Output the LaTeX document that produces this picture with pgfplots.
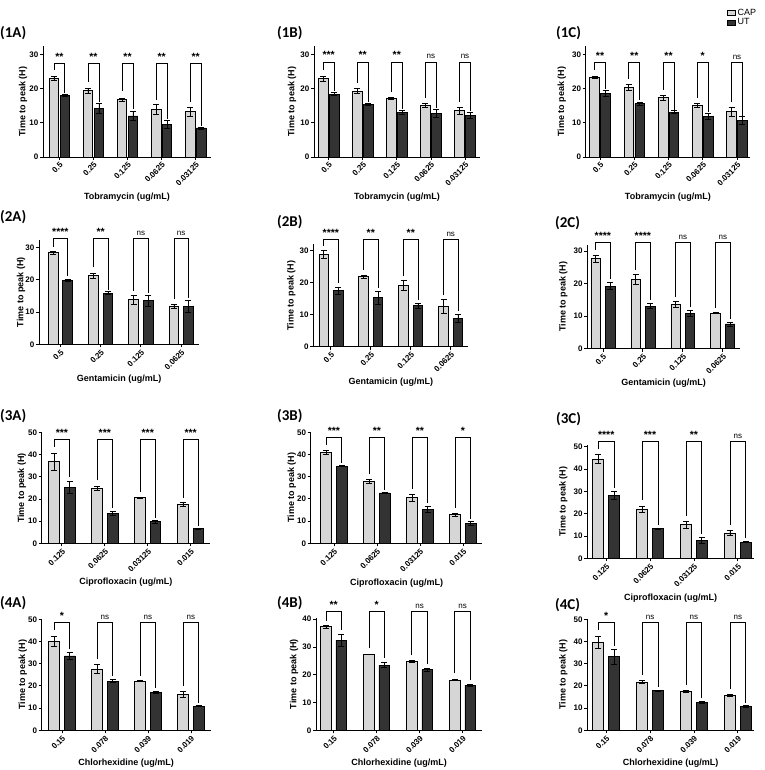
\documentclass[border=0pt]{standalone}
\usepackage{fontspec}
\setmainfont{Liberation Sans}
\newfontfamily\panelfont{Carlito}
\usepackage{pgfplots}
\usepackage{pgfplotstable}
\pgfplotsset{compat=1.18}
\usetikzlibrary{calc}

\definecolor{capfill}{RGB}{214,214,214}
\definecolor{utfill}{RGB}{51,51,51}

\newcommand\tickfont{\fontsize{8}{9}\selectfont\bfseries}
\newcommand\labfont{\fontsize{9}{10}\selectfont\bfseries}
\newcommand\stars[1]{{\fontsize{10.5}{11}\selectfont\bfseries #1}}
\newcommand\ns{{\fontsize{8}{9}\selectfont ns}}

\pgfplotsset{
  panel/.style={scale only axis, ymin=0, clip=false,
    axis x line*=bottom, axis y line*=left,
    axis line style={line width=0.8pt, black},
    tick align=outside, major tick length=3pt,
    every tick/.style={black, line width=0.8pt},
    tick label style={font=\tickfont},
    xticklabel style={rotate=45, anchor=north east, inner sep=1pt},
    yticklabel style={inner sep=1.5pt},
    /pgf/number format/assume math mode=true},
  barbase/.style={ybar, bar width=\bw, bar shift=0, draw=black, line width=0.7pt,
    legend image code/.code={\draw[##1] (0pt,-2.5pt) rectangle (8pt,2.5pt);},
    error bars/.cd, y dir=both, y explicit,
    error bar style={line width=0.7pt, black},
    error mark options={rotate=90, line width=0.7pt, mark size=3pt, black}},
}

% group, left leg end, right leg end, bracket height, text
\newcommand\sig[5]{%
  \pgfmathsetmacro\xa{#1-\bo}%
  \pgfmathsetmacro\xb{#1+\bo}%
  \edef\tmp{\noexpand\draw[line width=0.7pt] (axis cs:\xa,#2) -- (axis cs:\xa,#4) -- (axis cs:\xb,#4) -- (axis cs:\xb,#3);}%
  \tmp
  \node[anchor=base, inner sep=0pt, yshift=3pt] at (axis cs:#1,#4) {#5};%
}
\newcommand\bars[1]{%
  \addplot[fill=capfill, barbase] table[x expr=\thisrow{x}-\bo, y=c, y error=ce] {#1};
  \addplot[fill=utfill, barbase] table[x expr=\thisrow{x}+\bo, y=u, y error=ue] {#1};
}
% y label shift, x label shift, x label
\newcommand\labs[3]{%
  \node[font=\labfont, rotate=90] at ($(rel axis cs:0,0.5)+(#1pt,0pt)$) {Time to peak (H)};
  \node[font=\labfont] at ($(rel axis cs:0.5,0)+(0pt,#2pt)$) {#3};
}
\newcommand\plab[3]{\node[anchor=west, inner sep=0pt, font=\panelfont\bfseries\fontsize{15}{16}\selectfont] at (#1pt,#2pt) {#3};}

% x  CAP  err  UT  err
\pgfplotstableread{
x c ce u ue
0 23.0 0.6 18.0 0.4
1 19.4 0.8 14.3 1.4
2 16.8 0.4 12.0 1.2
3 14.0 1.4 9.5 1.1
4 13.3 1.3 8.5 0.3
}\tOA
\pgfplotstableread{
x c ce u ue
0 22.9 0.8 18.4 0.5
1 19.3 0.8 15.4 0.4
2 17.1 0.2 13.1 0.6
3 15.1 0.6 12.8 1.1
4 13.6 1.0 12.1 0.9
}\tOB
\pgfplotstableread{
x c ce u ue
0 23.3 0.3 18.6 0.8
1 20.4 0.9 15.6 0.4
2 17.3 0.6 13.1 0.4
3 15.0 0.6 11.9 1.0
4 13.2 1.2 10.7 1.1
}\tOC
\pgfplotstableread{
x c ce u ue
0 28.3 0.5 19.8 0.4
1 21.3 0.8 15.8 0.5
2 13.8 1.4 13.5 1.7
3 11.8 0.7 11.8 1.8
}\tTA
\pgfplotstableread{
x c ce u ue
0 28.8 1.3 17.5 1.2
1 21.9 0.5 15.3 2.0
2 19.1 1.5 12.8 0.7
3 12.5 2.2 8.8 1.2
}\tTB
\pgfplotstableread{
x c ce u ue
0 27.6 1.2 19.2 1.1
1 21.3 1.4 13.1 0.8
2 13.6 1.0 10.9 1.0
3 10.9 0.2 7.6 0.6
}\tTC
\pgfplotstableread{
x c ce u ue
0 36.8 4.0 25.3 2.8
1 24.7 1.0 13.6 1.0
2 20.6 0.2 9.7 0.5
3 17.4 0.9 6.7 0.2
}\tHA
\pgfplotstableread{
x c ce u ue
0 41.0 0.8 34.8 0.3
1 27.8 0.8 22.7 0.2
2 20.6 1.5 15.4 1.4
3 12.9 0.6 9.0 0.9
}\tHB
\pgfplotstableread{
x c ce u ue
0 44.6 2.2 28.2 1.8
1 22.0 1.3 13.3 0.3
2 15.1 1.5 8.1 1.3
3 11.4 1.1 7.3 0.2
}\tHC
\pgfplotstableread{
x c ce u ue
0 40.2 2.2 33.5 1.6
1 27.6 2.1 22.2 0.7
2 22.2 0.2 17.0 0.4
3 16.3 1.4 10.9 0.2
}\tFA
\pgfplotstableread{
x c ce u ue
0 37.3 0.6 32.4 2.0
1 27.4 0.1 23.5 1.0
2 24.7 0.4 21.8 0.4
3 18.1 0.2 16.3 0.3
}\tFB
\pgfplotstableread{
x c ce u ue
0 39.7 2.6 33.1 3.2
1 21.8 0.6 17.8 0.1
2 17.7 0.4 12.6 0.3
3 15.9 0.4 10.8 0.3
}\tFC

\begin{document}
\begin{tikzpicture}
\useasboundingbox (0pt,0pt) rectangle (764pt,770pt);

%%%%% row 1: tobramycin
\def\bw{0.28}\def\bo{0.16}
\begin{axis}[panel, at={(43pt,613pt)}, anchor=south west, width=168pt, height=110.5pt,
  xmin=-0.48, xmax=4.45, ymax=32.3, ytick={0,10,20,30},
  xtick={0,...,4}, xticklabels={0.5,0.25,0.125,0.0625,0.03125}]
\bars{\tOA}
\sig{0}{25.3}{18.6}{27.4}{\stars{**}}
\sig{1}{22.0}{16.2}{27.4}{\stars{**}}
\sig{2}{19.3}{13.9}{27.4}{\stars{**}}
\sig{3}{16.8}{11.0}{27.4}{\stars{**}}
\sig{4}{16.2}{9.2}{27.4}{\stars{**}}
\labs{-20}{-40}{Tobramycin (ug/mL)}
\end{axis}

\begin{axis}[panel, at={(314pt,613pt)}, anchor=south west, width=166pt, height=110.5pt,
  xmin=-0.43, xmax=4.44, ymax=32.3, ytick={0,10,20,30},
  xtick={0,...,4}, xticklabels={0.5,0.25,0.125,0.0625,0.03125}]
\bars{\tOB}
\sig{0}{25.3}{19.2}{27.8}{\stars{***}}
\sig{1}{21.7}{16.2}{27.8}{\stars{**}}
\sig{2}{19.1}{14.0}{27.8}{\stars{**}}
\sig{3}{17.2}{14.2}{27.8}{\ns}
\sig{4}{16.0}{13.4}{27.8}{\ns}
\labs{-22}{-40}{Tobramycin (ug/mL)}
\end{axis}

\begin{axis}[panel, at={(585.7pt,613pt)}, anchor=south west, width=164.3pt, height=110.5pt,
  xmin=-0.42, xmax=4.38, ymax=32.3, ytick={0,10,20,30},
  xtick={0,...,4}, xticklabels={0.5,0.25,0.125,0.0625,0.03125},
  legend style={draw=none, fill=none, at={(0.858,1.36)}, anchor=north west,
    font=\fontsize{9}{10}\selectfont, row sep=-2pt, inner sep=0pt, cells={anchor=west}}]
\bars{\tOC}
\sig{0}{25.5}{19.8}{27.7}{\stars{**}}
\sig{1}{22.8}{16.6}{27.7}{\stars{**}}
\sig{2}{19.6}{13.8}{27.7}{\stars{**}}
\sig{3}{17.2}{13.2}{27.7}{\stars{*}}
\sig{4}{16.0}{12.0}{27.7}{\ns}
\labs{-24}{-40}{Tobramycin (ug/mL)}
\legend{CAP,UT}
\end{axis}

%%%%% row 2: gentamicin
\def\bw{0.24}\def\bo{0.18}
\begin{axis}[panel, at={(39pt,425.7pt)}, anchor=south west, width=160.3pt, height=104.4pt,
  xmin=-0.53, xmax=3.45, ymax=32.3, ytick={0,10,20,30},
  xtick={0,...,3}, xticklabels={0.5,0.25,0.125,0.0625}]
\bars{\tTA}
\sig{0}{30.2}{21.0}{32.8}{\stars{****}}
\sig{1}{23.8}{16.8}{32.8}{\stars{**}}
\sig{2}{16.5}{15.8}{32.8}{\ns}
\sig{3}{14.0}{14.2}{32.8}{\ns}
\labs{-18}{-35}{Gentamicin (ug/mL)}
\end{axis}

\begin{axis}[panel, at={(313.3pt,423.3pt)}, anchor=south west, width=155pt, height=102.4pt,
  xmin=-0.44, xmax=3.44, ymax=32, ytick={0,10,20,30},
  xtick={0,...,3}, xticklabels={0.5,0.25,0.125,0.0625}]
\bars{\tTB}
\sig{0}{31.5}{19.8}{33.5}{\stars{****}}
\sig{1}{24.0}{18.3}{33.5}{\stars{**}}
\sig{2}{22.0}{14.5}{33.5}{\stars{**}}
\sig{3}{16.0}{11.0}{33.5}{\ns}
\labs{-22}{-35}{Gentamicin (ug/mL)}
\end{axis}

\begin{axis}[panel, at={(587.3pt,421.3pt)}, anchor=south west, width=152.7pt, height=103.6pt,
  xmin=-0.39, xmax=3.43, ymax=31.8, ytick={0,10,20,30},
  xtick={0,...,3}, xticklabels={0.5,0.25,0.125,0.0625}]
\bars{\tTC}
\sig{0}{30.3}{21.3}{32.5}{\stars{****}}
\sig{1}{24.2}{15.0}{32.5}{\stars{****}}
\sig{2}{16.0}{12.9}{32.5}{\ns}
\sig{3}{12.5}{9.2}{32.5}{\ns}
\labs{-24}{-34}{Gentamicin (ug/mL)}
\end{axis}

%%%%% row 3: ciprofloxacin
\def\bw{0.25}\def\bo{0.18}
\begin{axis}[panel, at={(41.7pt,226.7pt)}, anchor=south west, width=168.3pt, height=110.7pt,
  xmin=-0.47, xmax=3.45, ymax=50, ytick={0,10,...,50},
  xtick={0,...,3}, xticklabels={0.125,0.0625,0.03125,0.015}]
\bars{\tHA}
\sig{0}{43.5}{30.0}{47}{\stars{***}}
\sig{1}{28.5}{16.0}{47}{\stars{***}}
\sig{2}{23.0}{11.5}{47}{\stars{***}}
\sig{3}{20.5}{8.0}{47}{\stars{***}}
\labs{-20}{-39}{Ciprofloxacin (ug/mL)}
\end{axis}

\begin{axis}[panel, at={(310.7pt,226.7pt)}, anchor=south west, width=171.6pt, height=111pt,
  xmin=-0.54, xmax=3.45, ymax=50, ytick={0,10,...,50},
  xtick={0,...,3}, xticklabels={0.125,0.0625,0.03125,0.015}]
\bars{\tHB}
\sig{0}{44.3}{36.0}{47.7}{\stars{***}}
\sig{1}{31.0}{24.0}{47.7}{\stars{**}}
\sig{2}{24.5}{18.0}{47.7}{\stars{**}}
\sig{3}{16.0}{11.0}{47.7}{\stars{*}}
\labs{-19}{-40}{Ciprofloxacin (ug/mL)}
\end{axis}

\begin{axis}[panel, at={(587.3pt,211.7pt)}, anchor=south west, width=166.7pt, height=113pt,
  xmin=-0.43, xmax=3.37, ymax=50.7, ytick={0,10,...,50},
  xtick={0,...,3}, xticklabels={0.125,0.0625,0.03125,0.015}]
\bars{\tHC}
\sig{0}{49.0}{31.5}{52.5}{\stars{****}}
\sig{1}{26.0}{15.0}{52.5}{\stars{***}}
\sig{2}{19.0}{11.0}{52.5}{\stars{**}}
\sig{3}{15.0}{9.0}{52.5}{\ns}
\labs{-24}{-40}{Ciprofloxacin (ug/mL)}
\end{axis}

%%%%% row 4: chlorhexidine
\begin{axis}[panel, at={(41.7pt,39.7pt)}, anchor=south west, width=169pt, height=111pt,
  xmin=-0.47, xmax=3.46, ymax=50, ytick={0,10,...,50},
  xtick={0,...,3}, xticklabels={0.15,0.078,0.039,0.019}]
\bars{\tFA}
\sig{0}{45.0}{36.5}{48.5}{\stars{*}}
\sig{1}{32.0}{24.5}{48.5}{\ns}
\sig{2}{24.5}{19.0}{48.5}{\ns}
\sig{3}{20.0}{12.5}{48.5}{\ns}
\labs{-19}{-33}{Chlorhexidine (ug/mL)}
\end{axis}

\begin{axis}[panel, at={(316pt,39.7pt)}, anchor=south west, width=166.3pt, height=111.9pt,
  xmin=-0.41, xmax=3.46, ymax=40.3, ytick={0,10,...,40},
  xtick={0,...,3}, xticklabels={0.15,0.078,0.039,0.019}]
\bars{\tFB}
\sig{0}{39.5}{36.0}{42.7}{\stars{**}}
\sig{1}{29.5}{26.0}{42.7}{\stars{*}}
\sig{2}{27.0}{23.7}{42.7}{\ns}
\sig{3}{20.5}{18.0}{42.7}{\ns}
\labs{-22}{-33}{Chlorhexidine (ug/mL)}
\end{axis}

\begin{axis}[panel, at={(587.3pt,39.7pt)}, anchor=south west, width=166.7pt, height=111pt,
  xmin=-0.43, xmax=3.37, ymax=50, ytick={0,10,...,50},
  xtick={0,...,3}, xticklabels={0.15,0.078,0.039,0.019}]
\bars{\tFC}
\sig{0}{45.0}{38.0}{48.5}{\stars{*}}
\sig{1}{25.0}{19.5}{48.5}{\ns}
\sig{2}{20.5}{14.5}{48.5}{\ns}
\sig{3}{18.5}{12.5}{48.5}{\ns}
\labs{-24}{-33}{Chlorhexidine (ug/mL)}
\end{axis}

%%%%% panel letters
\plab{0}{737}{(1A)}\plab{277}{737}{(1B)}\plab{556}{737}{(1C)}
\plab{0}{553}{(2A)}\plab{277}{548}{(2B)}\plab{555}{547}{(2C)}
\plab{0}{354}{(3A)}\plab{277}{354}{(3B)}\plab{556}{351}{(3C)}
\plab{0}{167}{(4A)}\plab{277}{167}{(4B)}\plab{555}{165}{(4C)}
\end{tikzpicture}
\end{document}
